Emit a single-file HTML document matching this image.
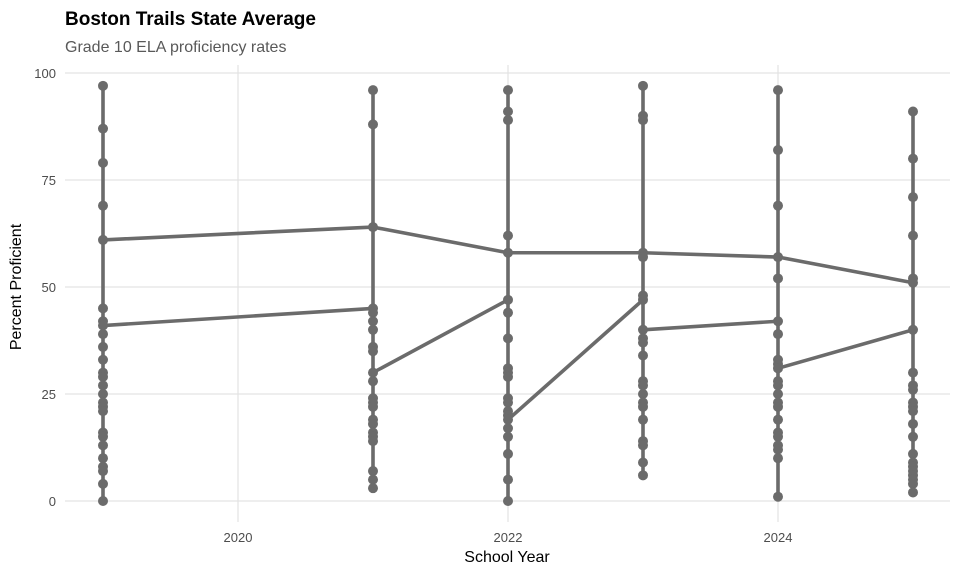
<!DOCTYPE html>
<html><head><meta charset="utf-8"><style>
body{margin:0;background:#fff}
svg{display:block;font-family:"Liberation Sans",Arial,sans-serif}
</style></head><body>
<svg id="s" width="960" height="576" viewBox="0 0 960 576">
<rect width="960" height="576" fill="#fff"/>
<g stroke="#e3e3e3" stroke-width="1.2">
<line x1="65" x2="950" y1="501" y2="501"/><line x1="65" x2="950" y1="394" y2="394"/>
<line x1="65" x2="950" y1="287" y2="287"/><line x1="65" x2="950" y1="180" y2="180"/>
<line x1="65" x2="950" y1="73" y2="73"/>
<line x1="238" x2="238" y1="65" y2="522"/><line x1="508" x2="508" y1="65" y2="522"/><line x1="778" x2="778" y1="65" y2="522"/>
</g>
<g fill="#4d4d4d" font-size="13" text-anchor="end">
<text x="56" y="506">0</text><text x="56" y="399">25</text><text x="56" y="292">50</text><text x="56" y="185">75</text><text x="56" y="78">100</text>
</g>
<g fill="#4d4d4d" font-size="13" text-anchor="middle">
<text x="238" y="542">2020</text><text x="508" y="542">2022</text><text x="778" y="542">2024</text>
</g>
<text x="507" y="562" font-size="16" text-anchor="middle" fill="#000">School Year</text>
<text transform="translate(21,287) rotate(-90)" font-size="16" text-anchor="middle" fill="#000">Percent Proficient</text>
<text x="65" y="25" font-size="19" font-weight="bold" fill="#000">Boston Trails State Average</text>
<text x="65" y="52" font-size="16" fill="#595959">Grade 10 ELA proficiency rates</text>
<g id="d"></g>
</svg>
<script>
var X=function(y){return 238+(y-2020)*135},Y=function(v){return 501-4.28*v};
var data={2019:[97,87,79,69,61,45,42,41,39,36,33,30,29,27,25,23,22,21,16,15,13,10,8,7,4,0],
2021:[96,88,64,45,44,42,40,36,35,30,28,24,23,22,19,18,16,15,14,7,5,3],
2022:[96,91,89,62,58,47,44,38,31,30,29,24,23,21,20,19,17,15,11,5,0],
2023:[97,90,89,58,57,48,47,40,38,37,34,28,27,25,23,22,19,14,13,9,6],
2024:[96,82,69,57,52,42,39,33,32,31,28,27,25,23,22,19,16,15,13,12,10,1],
2025:[91,80,71,62,52,51,40,30,27,26,23,22,21,18,15,11,9,8,7,6,5,4,2]};
var segs=[[[2019,61],[2021,64],[2022,58],[2023,58],[2024,57],[2025,51]],
[[2019,41],[2021,45]],[[2021,30],[2022,47]],[[2022,19],[2023,47]],[[2023,40],[2024,42]],[[2024,31],[2025,40]]];
var h='',c='#6b6b6b';
for(var y in data){var a=data[y];h+='<line x1="'+X(+y)+'" x2="'+X(+y)+'" y1="'+Y(Math.max.apply(0,a))+'" y2="'+Y(Math.min.apply(0,a))+'" stroke="'+c+'" stroke-width="3.6"/>';}
segs.forEach(function(s){h+='<polyline fill="none" stroke="'+c+'" stroke-width="3.6" stroke-linejoin="round" points="'+s.map(function(p){return X(p[0])+','+Y(p[1])}).join(' ')+'"/>';});
for(var y in data){data[y].forEach(function(v){h+='<circle cx="'+X(+y)+'" cy="'+Y(v)+'" r="5" fill="'+c+'"/>';});}
document.getElementById('d').innerHTML=h;
</script>
</body></html>
